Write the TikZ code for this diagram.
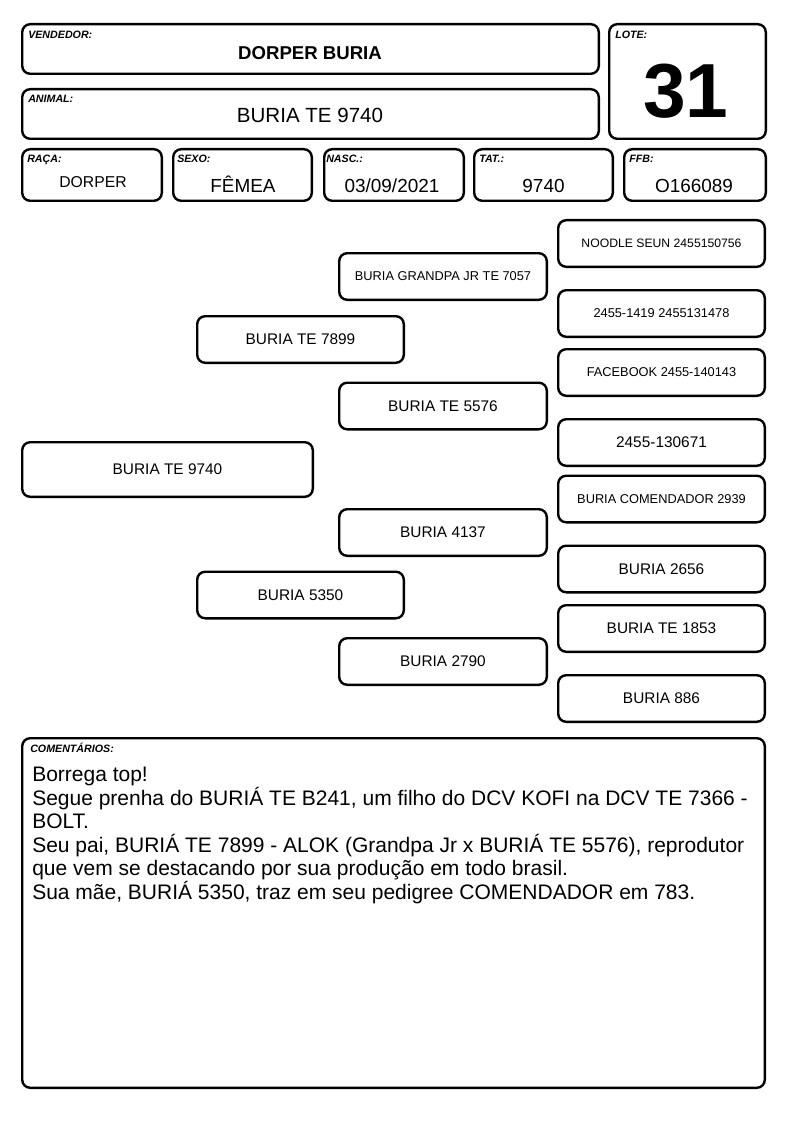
\documentclass[tikz,border=0pt]{standalone}
\usepackage{fontspec}
\setmainfont{Liberation Sans}
\begin{document}
\begin{tikzpicture}[x=0.75pt,y=-0.75pt,
  box/.style={draw=black, line width=1.8pt, rounded corners=6pt, inner sep=0pt, fill=white},
  lbl/.style={anchor=base west, inner sep=0pt, font=\fontsize{8}{9}\selectfont\bfseries\itshape},
  val/.style={anchor=base, inner sep=0pt},
  big/.style={font=\fontsize{11.55}{13}\selectfont},
  small/.style={font=\fontsize{9.6}{11}\selectfont},
  g3/.style={box, big, minimum width=155.7pt, minimum height=34.95pt},
  g4/.style={box, minimum width=154.95pt, minimum height=34.95pt},
  rowbox/.style={box, minimum height=38.7pt},
  rowval/.style={val, font=\fontsize{14.2}{16}\selectfont}
]
\useasboundingbox (0,0) rectangle (794,1123);
\fill[white] (0,0) rectangle (794,1123);

% header
\node[box, minimum width=432.45pt, minimum height=37.2pt] (vend) at (310.5,49) {};
\node[lbl] (vendl) at (28,38.5) {VENDEDOR:};
\node[val, font=\fontsize{13.95}{16}\selectfont\bfseries] (vendv) at (310,60) {DORPER BURIA};

\node[box, minimum width=432.45pt, minimum height=37.2pt] (anim) at (310.5,114) {};
\node[lbl] (animl) at (28,102.5) {ANIMAL:};
\node[val, font=\fontsize{15.4}{17}\selectfont] (animv) at (310,122.7) {BURIA TE 9740};

\node[box, minimum width=117.45pt, minimum height=85.95pt] (lote) at (687.5,81.5) {};
\node[lbl] (lotel) at (615,38.5) {LOTE:};
\node[val, font=\fontsize{57.5}{60}\selectfont\bfseries] (lotev) at (686,118) {31};

\node[rowbox, minimum width=104.7pt] (raca) at (92,175) {};
\node[lbl] (racal) at (27,163) {RAÇA:};
\node[val, font=\fontsize{11.8}{14}\selectfont] (racav) at (93,188) {DORPER};

\node[rowbox, minimum width=103.95pt] (sexo) at (242.5,175) {};
\node[lbl] (sexol) at (177,163) {SEXO:};
\node[rowval] (sexov) at (243,193) {FÊMEA};

\node[rowbox, minimum width=104.7pt] (nasc) at (394,175) {};
\node[lbl] (nascl) at (326,163) {NASC.:};
\node[rowval] (nascv) at (392,193) {03/09/2021};

\node[rowbox, minimum width=103.95pt] (tat) at (543.5,175) {};
\node[lbl] (tatl) at (479,163) {TAT.:};
\node[rowval] (tatv) at (543.5,193) {9740};

\node[rowbox, minimum width=106.2pt] (ffb) at (695,175) {};
\node[lbl] (ffbl) at (629,163) {FFB:};
\node[rowval] (ffbv) at (694,193) {O166089};

% pedigree
\node[box, big, minimum width=217.95pt, minimum height=40.95pt] (p0) at (167.5,469.5) {BURIA TE 9740};
\node[box, big, minimum width=154.95pt, minimum height=34.95pt] (s) at (300.5,339.5) {BURIA TE 7899};
\node[box, big, minimum width=154.95pt, minimum height=34.95pt] (d) at (300.5,595) {BURIA 5350};

\node[g3, small] (ss) at (443,276.5) {BURIA GRANDPA JR TE 7057};
\node[g3] (sd) at (443,406) {BURIA TE 5576};
\node[g3] (ds) at (443,532.5) {BURIA 4137};
\node[g3] (dd) at (443,661.5) {BURIA 2790};

\node[g4, font=\fontsize{9.15}{11}\selectfont] (sss) at (661.5,243.5) {NOODLE SEUN 2455150756};
\node[g4, small] (ssd) at (661.5,313.5) {2455-1419 2455131478};
\node[g4, small] (sds) at (661.5,372.5) {FACEBOOK 2455-140143};
\node[g4, big] (sdd) at (661.5,442.5) {2455-130671};
\node[g4, small] (dss) at (661.5,499) {BURIA COMENDADOR 2939};
\node[g4, big] (dsd) at (661.5,569) {BURIA 2656};
\node[g4, big] (dds) at (661.5,628.5) {BURIA TE 1853};
\node[g4, big] (ddd) at (661.5,698.5) {BURIA 886};

% comments
\node[box, minimum width=556.95pt, minimum height=262.2pt] (comm) at (393.5,913) {};
\node[lbl] (comml) at (30,752) {COMENTÁRIOS:};
\node[anchor=north west, inner sep=0pt, align=left,
      font=\fontsize{15.75}{17.6}\selectfont] (commv) at (32,767)
{Borrega top!\\
Segue prenha do BURIÁ TE B241, um filho do DCV KOFI na DCV TE 7366 -\\
BOLT.\\
Seu pai, BURIÁ TE 7899 - ALOK (Grandpa Jr x BURIÁ TE 5576), reprodutor\\
que vem se destacando por sua produção em todo brasil.\\
Sua mãe, BURIÁ 5350, traz em seu pedigree COMENDADOR em 783.};
\end{tikzpicture}
\end{document}
